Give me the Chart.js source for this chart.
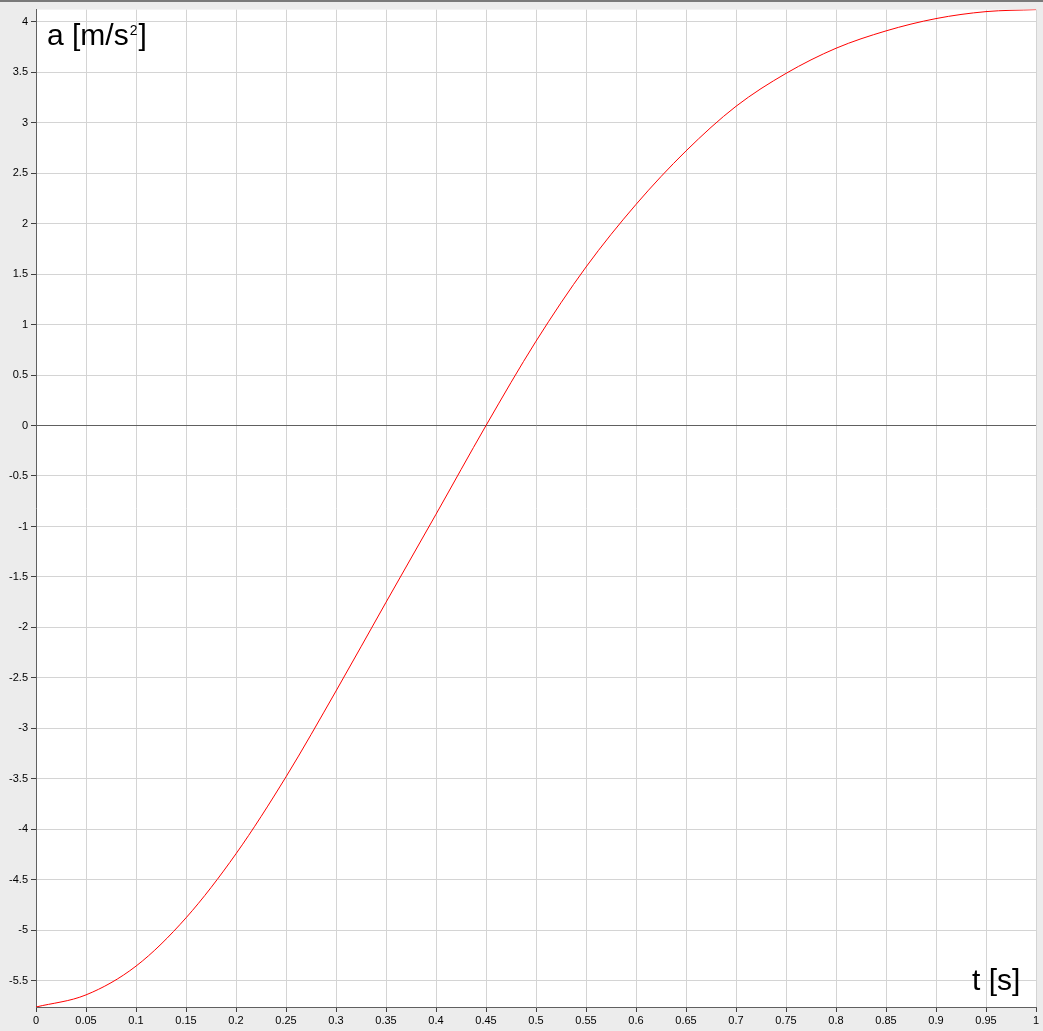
<!DOCTYPE html>
<html>
<head>
<meta charset="utf-8">
<script src="https://cdn.jsdelivr.net/npm/chart.js@4.4.1/dist/chart.umd.min.js"></script>
<style>
  html, body { margin: 0; padding: 0; background: #ececec; }
  canvas { display: block; }
</style>
</head>
<body>
<canvas id="accChart" width="1043" height="1031"></canvas>
<script>
// Aceleración frente al tiempo
const tiempos = [0, 0.05, 0.1, 0.15, 0.2, 0.25, 0.3, 0.35, 0.4, 0.45, 0.5,
  0.55, 0.6, 0.65, 0.7, 0.75, 0.8, 0.85, 0.9, 0.95, 1];
const aceleraciones = [-5.76, -5.64, -5.355, -4.877, -4.242, -3.48, -2.63, -1.751, -0.879, 0.0, 0.835,
  1.57, 2.19, 2.72, 3.162, 3.488, 3.737, 3.909, 4.031, 4.10, 4.12];

const xTicks = [0, 0.05, 0.1, 0.15, 0.2, 0.25, 0.3, 0.35, 0.4, 0.45, 0.5,
  0.55, 0.6, 0.65, 0.7, 0.75, 0.8, 0.85, 0.9, 0.95, 1];
const yTicks = [-5.5, -5, -4.5, -4, -3.5, -3, -2.5, -2, -1.5, -1, -0.5, 0,
  0.5, 1, 1.5, 2, 2.5, 3, 3.5, 4];

const FUENTE = "'Liberation Sans', Arial, sans-serif";
const fmt = (v) => String(Math.round(v * 100) / 100);

// Fondo gris, área blanca, rótulos de ejes dentro del gráfico
const marco = {
  id: 'marco',
  beforeDraw(chart) {
    const { ctx, chartArea: a, width } = chart;
    ctx.save();
    ctx.fillStyle = '#ececec';
    ctx.fillRect(0, 0, chart.width, chart.height);
    ctx.fillStyle = '#ffffff';
    ctx.fillRect(a.left, a.top, a.right - a.left, a.bottom - a.top);
    ctx.fillStyle = '#7a7a7a';
    ctx.fillRect(0, 0, width, 2);
    ctx.restore();
  },
  afterDraw(chart) {
    const { ctx } = chart;
    ctx.save();
    ctx.fillStyle = '#000';
    ctx.textBaseline = 'alphabetic';
    ctx.font = '30px ' + FUENTE;
    const base = 'a [m/s';
    ctx.fillText(base, 47, 45);
    let x = 47 + ctx.measureText(base).width + 1;
    ctx.font = '14px ' + FUENTE;
    ctx.fillText('2', x, 35);
    x += ctx.measureText('2').width + 1;
    ctx.font = '30px ' + FUENTE;
    ctx.fillText(']', x, 45);
    ctx.fillText('t [s]', 972, 990);
    ctx.restore();
  }
};

const ctx = document.getElementById('accChart').getContext('2d');
new Chart(ctx, {
  type: 'line',
  data: {
    datasets: [{
      data: tiempos.map((t, i) => ({ x: t, y: aceleraciones[i] })),
      borderColor: '#ff0000',
      borderWidth: 1,
      pointRadius: 0,
      cubicInterpolationMode: 'monotone',
      fill: false
    }]
  },
  options: {
    responsive: false,
    animation: false,
    layout: { padding: { top: 7, right: 7, left: 0, bottom: 0 } },
    plugins: { legend: { display: false }, tooltip: { enabled: false } },
    scales: {
      x: {
        type: 'linear', min: 0, max: 1,
        afterFit: (s) => { s.height = 24; },
        afterBuildTicks: (s) => { s.ticks = xTicks.map((v) => ({ value: v })); },
        grid: { color: '#d4d4d4', tickColor: '#404040', tickLength: 5 },
        border: { color: '#606060' },
        ticks: {
          autoSkip: false, maxRotation: 0, padding: 2, color: '#000',
          font: { family: FUENTE, size: 11 },
          callback: (v) => fmt(v)
        }
      },
      y: {
        type: 'linear', min: -5.76, max: 4.12,
        afterFit: (s) => { s.width = 36; },
        afterBuildTicks: (s) => { s.ticks = yTicks.map((v) => ({ value: v })); },
        grid: {
          color: (c) => (c.tick && c.tick.value === 0 ? '#606060' : '#d4d4d4'),
          tickColor: '#404040', tickLength: 5
        },
        border: { color: '#606060' },
        ticks: {
          autoSkip: false, padding: 3, color: '#000',
          font: { family: FUENTE, size: 11 },
          callback: (v) => fmt(v)
        }
      }
    }
  },
  plugins: [marco]
});
</script>
</body>
</html>
